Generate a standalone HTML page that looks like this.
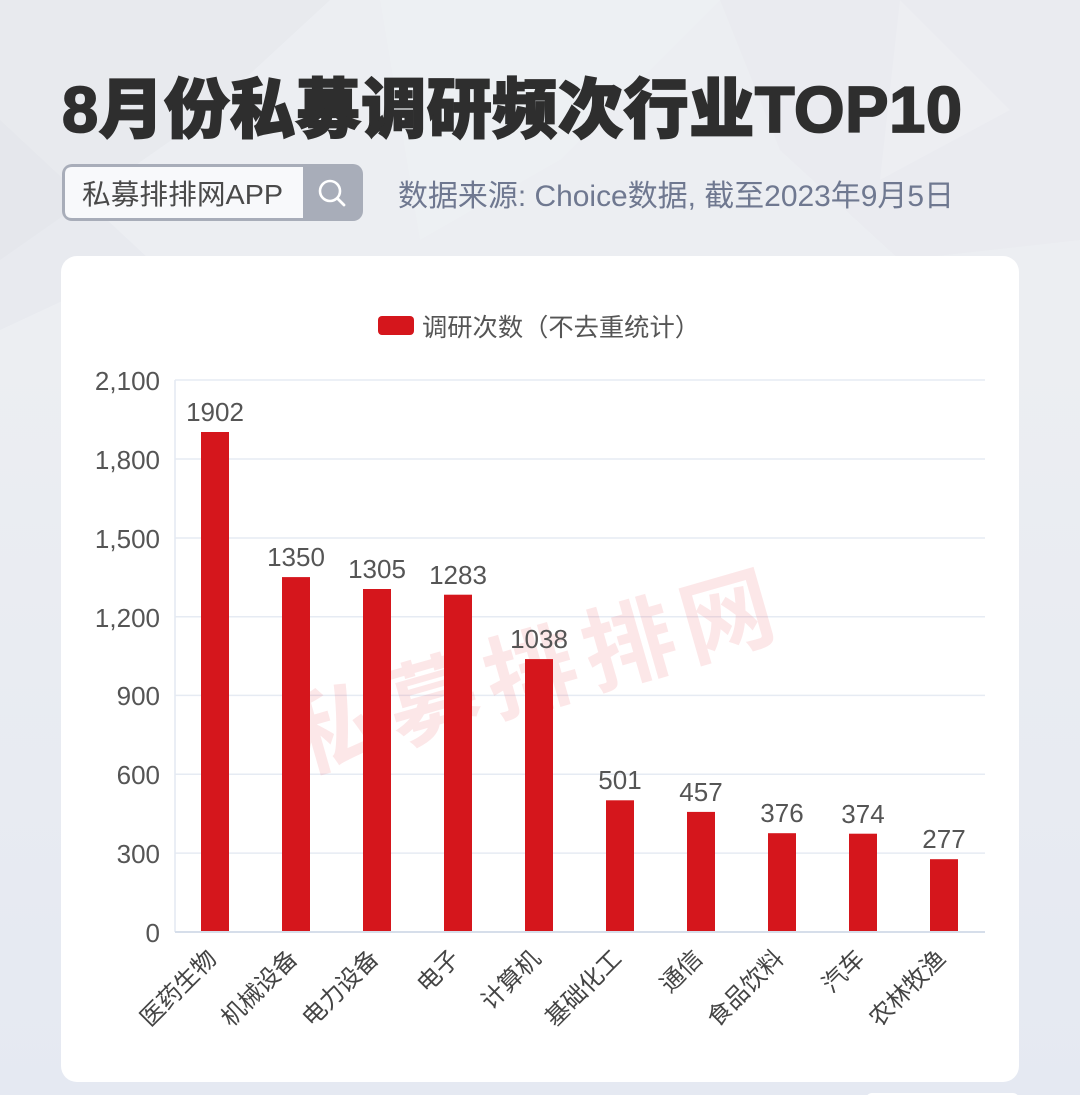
<!DOCTYPE html>
<html>
<head>
<meta charset="utf-8">
<style>
html,body{margin:0;padding:0;background:#eceef3;}
body{width:1080px;height:1095px;overflow:hidden;}
svg{display:block;}
.t{font-family:"Liberation Sans","Noto Sans CJK SC",sans-serif;}
</style>
</head>
<body>
<svg width="1080" height="1095" viewBox="0 0 1080 1095" xmlns="http://www.w3.org/2000/svg">
  <defs>
    <linearGradient id="bg" x1="0" y1="0" x2="0" y2="1">
      <stop offset="0" stop-color="#eceef2"/>
      <stop offset="0.3" stop-color="#eceef2"/>
      <stop offset="1" stop-color="#e5e9f2"/>
    </linearGradient>
  </defs>
  <rect x="0" y="0" width="1080" height="1095" fill="url(#bg)"/>
  <!-- faint background shapes -->
  <polygon points="0,0 330,0 200,120 0,260" fill="#dcdfe5" opacity="0.25"/>
  <polygon points="380,0 720,0 560,160 420,240" fill="#f2f3f6" opacity="0.35"/>
  <polygon points="720,0 1080,0 1080,240 900,260 780,150" fill="#e4e6eb" opacity="0.3"/>
  <polygon points="0,120 150,260 0,330" fill="#dde0e6" opacity="0.25"/>
  <polygon points="900,0 1010,110 880,180" fill="#f3f4f7" opacity="0.35"/>

  <!-- Title -->
  <text class="t" x="62" y="132" font-size="65" font-weight="900" fill="#2e2e2e" stroke="#2e2e2e" stroke-width="1.8" textLength="900" lengthAdjust="spacing">8月份私募调研频次行业TOP10</text>

  <!-- Search box -->
  <rect x="62" y="164" width="301" height="57" rx="10" fill="#a8adb9"/>
  <path d="M72,167 H303 V218 H72 Q65,218 65,211 V174 Q65,167 72,167 Z" fill="#f8f9fb"/>
  <text class="t" x="82" y="204" font-size="28" fill="#4a4a4a" textLength="201" lengthAdjust="spacingAndGlyphs">私募排排网APP</text>
  <circle cx="330" cy="191" r="10" fill="none" stroke="#ffffff" stroke-width="2.6"/>
  <line x1="337.5" y1="198.5" x2="344" y2="205" stroke="#ffffff" stroke-width="2.8" stroke-linecap="round"/>

  <!-- Source -->
  <text class="t" x="398" y="206" font-size="30" fill="#6f7890" textLength="556" lengthAdjust="spacingAndGlyphs">数据来源: Choice数据, 截至2023年9月5日</text>

  <!-- Card -->
  <rect x="61" y="256" width="958" height="826" rx="16" fill="#ffffff"/>
  <rect x="866" y="1093" width="153" height="12" rx="6" fill="#ffffff"/>

  <!-- Legend -->
  <rect x="378" y="316" width="36" height="19" rx="4" fill="#d5161c"/>
  <text class="t" x="422" y="336" font-size="25" fill="#555555" textLength="278" lengthAdjust="spacingAndGlyphs">调研次数（不去重统计）</text>

  <!-- Grid -->
  <g stroke="#e6ebf3" stroke-width="1.5">
    <line x1="175" y1="380" x2="985" y2="380"/>
    <line x1="175" y1="459" x2="985" y2="459"/>
    <line x1="175" y1="538" x2="985" y2="538"/>
    <line x1="175" y1="616.7" x2="985" y2="616.7"/>
    <line x1="175" y1="695.4" x2="985" y2="695.4"/>
    <line x1="175" y1="774.3" x2="985" y2="774.3"/>
    <line x1="175" y1="853.1" x2="985" y2="853.1"/>
  </g>
  <line x1="175" y1="380" x2="175" y2="932" stroke="#e3e9f2" stroke-width="1.5"/>

  <!-- Watermark -->
  <g transform="translate(536,672) rotate(-16)">
    <text class="t" x="0" y="32" text-anchor="middle" font-size="92" font-weight="bold" fill="#e8303a" opacity="0.11" letter-spacing="10">私募排排网</text>
  </g>

  <!-- Y labels -->
  <g class="t" font-size="26" fill="#555555" text-anchor="end">
    <text x="160" y="390">2,100</text>
    <text x="160" y="469">1,800</text>
    <text x="160" y="548">1,500</text>
    <text x="160" y="627">1,200</text>
    <text x="160" y="705">900</text>
    <text x="160" y="784">600</text>
    <text x="160" y="863">300</text>
    <text x="160" y="942">0</text>
  </g>

  <!-- Bars -->
  <g fill="#d5161c">
    <rect x="201" y="432.0" width="28" height="500.0"/>
    <rect x="282" y="577.1" width="28" height="354.9"/>
    <rect x="363" y="589.0" width="28" height="343.0"/>
    <rect x="444" y="594.7" width="28" height="337.3"/>
    <rect x="525" y="659.1" width="28" height="272.9"/>
    <rect x="606" y="800.3" width="28" height="131.7"/>
    <rect x="687" y="811.9" width="28" height="120.1"/>
    <rect x="768" y="833.2" width="28" height="98.8"/>
    <rect x="849" y="833.7" width="28" height="98.3"/>
    <rect x="930" y="859.2" width="28" height="72.8"/>
  </g>
  <line x1="175" y1="932" x2="985" y2="932" stroke="#d6deea" stroke-width="2"/>

  <!-- Value labels -->
  <g class="t" font-size="26" fill="#555555" text-anchor="middle">
    <text x="215" y="421">1902</text>
    <text x="296" y="566">1350</text>
    <text x="377" y="578">1305</text>
    <text x="458" y="584">1283</text>
    <text x="539" y="648">1038</text>
    <text x="620" y="789">501</text>
    <text x="701" y="801">457</text>
    <text x="782" y="822">376</text>
    <text x="863" y="823">374</text>
    <text x="944" y="848">277</text>
  </g>

  <!-- X labels -->
  <g class="t" font-size="24" fill="#444444" text-anchor="end">
    <text transform="translate(218,960) rotate(-45)">医药生物</text>
    <text transform="translate(299,960) rotate(-45)">机械设备</text>
    <text transform="translate(380,960) rotate(-45)">电力设备</text>
    <text transform="translate(461,960) rotate(-45)">电子</text>
    <text transform="translate(542,960) rotate(-45)">计算机</text>
    <text transform="translate(623,960) rotate(-45)">基础化工</text>
    <text transform="translate(704,960) rotate(-45)">通信</text>
    <text transform="translate(785,960) rotate(-45)">食品饮料</text>
    <text transform="translate(866,960) rotate(-45)">汽车</text>
    <text transform="translate(947,960) rotate(-45)">农林牧渔</text>
  </g>
</svg>
</body>
</html>
